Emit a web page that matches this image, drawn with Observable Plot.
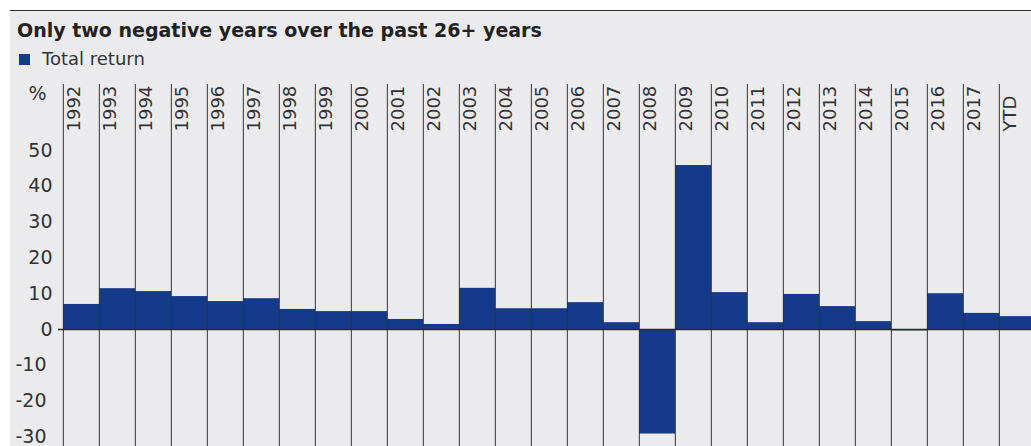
<!DOCTYPE html>
<html>
<head>
<meta charset="utf-8">
<script src="https://cdn.jsdelivr.net/npm/d3@7"></script>
<script src="https://cdn.jsdelivr.net/npm/@observablehq/plot@0.6"></script>
<style>
  html, body { margin: 0; padding: 0; background: #ffffff; }
  body { width: 1031px; height: 446px; position: relative; overflow: hidden; font-family: "DejaVu Sans", sans-serif; }
  #panel { position: absolute; left: 10px; top: 10px; width: 1021px; height: 436px; background: #ebebed; }
  #topline { position: absolute; left: 10px; top: 9.5px; width: 1021px; height: 1.5px; background: #2b2b2b; }
  #title { position: absolute; left: 7px; top: 11px; font-size: 19px; line-height: 19px; font-weight: bold; color: #222; white-space: nowrap; }
  #legend { position: absolute; left: 9px; top: 40px; font-size: 18px; line-height: 18px; color: #333; white-space: nowrap; }
  #legend .sw { display: inline-block; width: 11px; height: 11px; background: #163a8a; margin-right: 12px; vertical-align: 0px; }
  #chart { position: absolute; left: 0; top: 60px; }
</style>
</head>
<body>
<div id="panel">
  <div id="title">Only two negative years over the past 26+ years</div>
  <div id="legend"><span class="sw"></span>Total return</div>
  <div id="chart"></div>
</div>
<div id="topline"></div>
<script>
const categories = ["1992","1993","1994","1995","1996","1997","1998","1999","2000","2001","2002","2003","2004","2005","2006","2007","2008","2009","2010","2011","2012","2013","2014","2015","2016","2017","YTD"];
const totalReturn = [7.0, 11.4, 10.6, 9.2, 7.8, 8.6, 5.6, 5.0, 5.0, 2.8, 1.4, 11.5, 5.8, 5.8, 7.5, 1.9, -29.2, 45.8, 10.3, 1.9, 9.8, 6.4, 2.2, -0.4, 10.0, 4.5, 3.6];
const yTicksPos = [0, 10, 20, 30, 40, 50];
const yTicksNeg = [-30, -20, -10];

const data = categories.map((c, i) => ({year: c, value: totalReturn[i]}));

const W = 1021, H = 376;
const x0 = 48.3, bw = 36.32;
const xRange = [x0, x0 + categories.length * bw];
const zeroY = 259, ppu = 3.58;

const chart = Plot.plot({
  width: W,
  height: H,
  marginTop: 14,
  marginBottom: 0,
  marginLeft: 48,
  marginRight: 0,
  style: {background: "transparent", fontFamily: "DejaVu Sans, sans-serif", color: "#333"},
  x: {type: "band", domain: categories, range: xRange, padding: 0, axis: null},
  y: {domain: [-30, 50], range: [zeroY + 30 * ppu, zeroY - 50 * ppu], axis: null},
  marks: [
    Plot.barY(data, {x: "year", y: "value", fill: "#163a8a"}),
    Plot.ruleX(categories, {x: d => d, dx: -bw / 2, stroke: "#333", strokeWidth: 1}),
    Plot.ruleY([0], {stroke: "#2b2b2b", strokeWidth: 1.5}),
    Plot.text(categories, {x: d => d, frameAnchor: "top", dy: 47, dx: 10.5 - bw / 2, rotate: -90, textAnchor: "start", lineAnchor: "middle", fontSize: 18, fill: "#333"}),
    Plot.axisY(yTicksPos, {tickSize: 0, tickPadding: 6, fontSize: 19, fill: "#333", textAnchor: "end", label: null, tickFormat: d => String(d)}),
    Plot.axisY(yTicksNeg, {tickSize: 0, tickPadding: 12, fontSize: 19, fill: "#333", textAnchor: "end", label: null, tickFormat: d => String(d)}),
    Plot.text(["%"], {frameAnchor: "top-left", dx: -21, dy: 9, textAnchor: "middle", lineAnchor: "middle", fontSize: 19, fill: "#333"})
  ]
});
document.getElementById("chart").appendChild(chart);
</script>
</body>
</html>
